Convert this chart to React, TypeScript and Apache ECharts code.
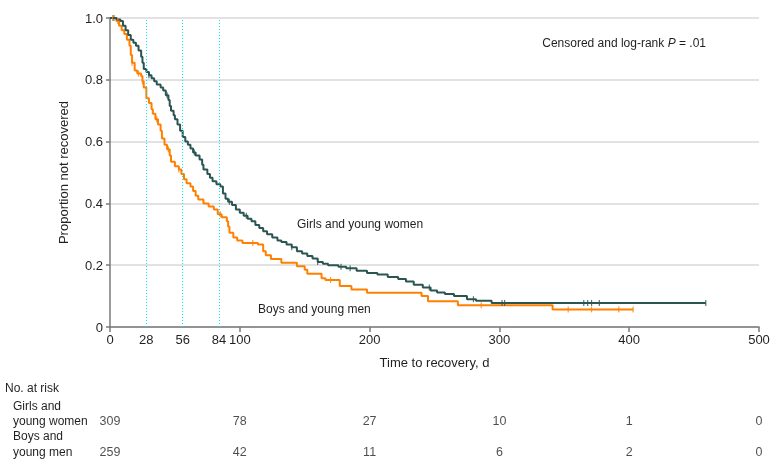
import React, { useEffect, useRef } from "react";
import * as echarts from "echarts";

const girlsCurve: [number, number][] = [
  [0, 1.0], [5, 0.995], [8, 0.99], [10, 0.975], [12, 0.96], [14, 0.945], [16, 0.93], [18, 0.92],
  [20, 0.91], [22, 0.895], [24, 0.875], [25, 0.855], [26, 0.835], [28, 0.825], [30, 0.815],
  [32, 0.805], [34, 0.795], [36, 0.785], [39, 0.775], [41, 0.765], [43, 0.75], [45, 0.735],
  [46, 0.715], [47, 0.7], [49, 0.685], [50, 0.672], [52, 0.655], [54, 0.635], [56, 0.615],
  [58, 0.6], [60, 0.59], [62, 0.578], [64, 0.565], [66, 0.555], [69, 0.542], [71, 0.525],
  [72, 0.51], [75, 0.495], [77, 0.483], [79, 0.472], [82, 0.462], [85, 0.455], [87, 0.432],
  [89, 0.415], [91, 0.405], [94, 0.395], [97, 0.38], [100, 0.37], [103, 0.36], [106, 0.35],
  [109, 0.342], [112, 0.33], [115, 0.32], [118, 0.31], [121, 0.3], [125, 0.29], [129, 0.28],
  [132, 0.275], [136, 0.267], [140, 0.258], [144, 0.245], [148, 0.238], [152, 0.23],
  [156, 0.222], [160, 0.21], [164, 0.205], [168, 0.2], [176, 0.195], [182, 0.19], [190, 0.182],
  [198, 0.175], [206, 0.17], [214, 0.162], [222, 0.155], [228, 0.147], [234, 0.137],
  [241, 0.128], [247, 0.118], [252, 0.112], [258, 0.107], [265, 0.1], [275, 0.09], [282, 0.085],
  [294, 0.078], [459, 0.078],
];

const boysCurve: [number, number][] = [
  [0, 1.0], [3, 1.0], [5, 0.99], [7, 0.975], [9, 0.96], [11, 0.948], [13, 0.93], [15, 0.91],
  [16, 0.88], [17, 0.855], [19, 0.83], [21, 0.82], [24, 0.812], [25, 0.795], [26, 0.775],
  [28, 0.74], [30, 0.725], [32, 0.705], [33, 0.69], [35, 0.672], [37, 0.655], [39, 0.635],
  [40, 0.61], [42, 0.59], [44, 0.575], [46, 0.555], [47, 0.535], [50, 0.52], [53, 0.51],
  [55, 0.495], [57, 0.478], [59, 0.465], [62, 0.455], [64, 0.44], [66, 0.425], [68, 0.413],
  [72, 0.4], [76, 0.39], [80, 0.38], [83, 0.365], [86, 0.355], [90, 0.342], [91, 0.325],
  [92, 0.305], [95, 0.29], [98, 0.28], [102, 0.272], [114, 0.267], [118, 0.245], [120, 0.232],
  [124, 0.22], [132, 0.208], [144, 0.197], [150, 0.185], [152, 0.172], [163, 0.158],
  [166, 0.152], [177, 0.133], [186, 0.121], [198, 0.111], [240, 0.1], [245, 0.083],
  [268, 0.07], [341, 0.057], [403, 0.057],
];

const girlsCensored: number[] = [3, 30, 44, 65, 92, 105, 140, 160, 178, 185, 246, 280, 302, 304, 365, 368, 371, 377, 459];
const boysCensored: number[] = [2, 6, 17, 22, 25, 36, 45, 53, 85, 110, 170, 286, 353, 371, 392, 403];

const xLabelValues: number[] = [0, 28, 56, 84, 100, 200, 300, 400, 500];
const xTickValues: number[] = [0, 100, 200, 300, 400, 500];
const refLines: number[] = [28, 56, 84];

const riskTimes: number[] = [0, 100, 200, 300, 400, 500];
const girlsRisk: number[] = [309, 78, 27, 10, 1, 0];
const boysRisk: number[] = [259, 42, 11, 6, 2, 0];

const FONT = "'Liberation Sans', Arial, sans-serif";
const TEXT = "#231f20";
const GIRLS = "#2a5552";
const BOYS = "#ff8000";

function survAt(curve: [number, number][], t: number): number {
  let p = curve[0][1];
  for (const [d, v] of curve) {
    if (d <= t) p = v;
    else break;
  }
  return p;
}

export default function App() {
  const ref = useRef<HTMLDivElement>(null);
  useEffect(() => {
    if (!ref.current) return;
    const chart = echarts.init(ref.current, undefined, { renderer: "svg" });
    const option: any = {
      animation: false,
      textStyle: { fontFamily: FONT },
      grid: [
        { left: 110, right: 21, top: 18, bottom: 143 },
        { left: 110, right: 21, top: 421, bottom: 18 },
      ],
      xAxis: [
        {
          type: "value",
          gridIndex: 0,
          min: 0,
          max: 500,
          interval: 100,
          name: "Time to recovery, d",
          nameLocation: "middle",
          nameGap: 29,
          nameTextStyle: { fontSize: 13, color: TEXT, fontFamily: FONT },
          axisLine: { show: true, lineStyle: { color: "#7a7a7a", width: 1.5 } },
          axisTick: { show: true, length: 5, customValues: xTickValues, lineStyle: { color: "#7a7a7a", width: 1.5 } },
          axisLabel: { customValues: xLabelValues, fontSize: 13, color: TEXT, margin: 6, fontFamily: FONT },
          splitLine: { show: false },
        },
        {
          type: "value",
          gridIndex: 1,
          min: 0,
          max: 500,
          show: false,
        },
      ],
      yAxis: [
        {
          type: "value",
          gridIndex: 0,
          min: 0,
          max: 1,
          interval: 0.2,
          name: "Proportion not recovered",
          nameLocation: "middle",
          nameGap: 40,
          nameTextStyle: { fontSize: 13, color: TEXT, fontFamily: FONT },
          axisLine: { show: true, lineStyle: { color: "#7a7a7a", width: 1.5 } },
          axisTick: { show: true, length: 4, lineStyle: { color: "#7a7a7a", width: 1.5 } },
          axisLabel: {
            fontSize: 13,
            color: TEXT,
            margin: 7,
            fontFamily: FONT,
            formatter: (v: number) => (v === 0 ? "0" : v.toFixed(1)),
          },
          splitLine: { show: true, lineStyle: { color: "#d9d9d9", width: 1.6 } },
        },
        {
          type: "value",
          gridIndex: 1,
          min: 0,
          max: 1,
          inverse: true,
          show: false,
        },
      ],
      series: [
        {
          type: "line",
          name: "Girls and young women",
          xAxisIndex: 0,
          yAxisIndex: 0,
          step: "end",
          showSymbol: false,
          data: girlsCurve,
          lineStyle: { color: GIRLS, width: 2 },
          itemStyle: { color: GIRLS },
          z: 3,
          markLine: {
            silent: true,
            symbol: ["none", "none"],
            label: { show: false },
            lineStyle: { color: "#00e5f5", type: [1, 2], width: 1 },
            data: refLines.map((d) => [{ coord: [d, 0] }, { coord: [d, 1] }]),
          },
        },
        {
          type: "line",
          name: "Boys and young men",
          xAxisIndex: 0,
          yAxisIndex: 0,
          step: "end",
          showSymbol: false,
          data: boysCurve,
          lineStyle: { color: BOYS, width: 2 },
          itemStyle: { color: BOYS },
          z: 2,
        },
        {
          type: "scatter",
          xAxisIndex: 0,
          yAxisIndex: 0,
          symbol: "rect",
          symbolSize: [1.2, 6],
          itemStyle: { color: GIRLS },
          data: girlsCensored.map((d) => [d, survAt(girlsCurve, d)]),
          z: 4,
        },
        {
          type: "scatter",
          xAxisIndex: 0,
          yAxisIndex: 0,
          symbol: "rect",
          symbolSize: [1.2, 6],
          itemStyle: { color: BOYS },
          data: boysCensored.map((d) => [d, survAt(boysCurve, d)]),
          z: 4,
        },
        {
          type: "scatter",
          xAxisIndex: 1,
          yAxisIndex: 1,
          symbolSize: 0,
          data: riskTimes.map((t, i) => [t, 0, girlsRisk[i]]),
          label: {
            show: true,
            position: "inside",
            formatter: (p: any) => String(p.value[2]),
            fontSize: 12.5,
            color: TEXT,
            fontFamily: FONT,
          },
        },
        {
          type: "scatter",
          xAxisIndex: 1,
          yAxisIndex: 1,
          symbolSize: 0,
          data: riskTimes.map((t, i) => [t, 1, boysRisk[i]]),
          label: {
            show: true,
            position: "inside",
            formatter: (p: any) => String(p.value[2]),
            fontSize: 12.5,
            color: TEXT,
            fontFamily: FONT,
          },
        },
      ],
      graphic: [
        {
          type: "text",
          x: 706,
          y: 43,
          style: {
            text: "{a|Censored and log-rank }{i|P}{a| = .01}",
            align: "right",
            verticalAlign: "middle",
            rich: {
              a: { fontSize: 12, fontFamily: FONT, fill: TEXT, color: TEXT },
              i: { fontSize: 12, fontFamily: FONT, fontStyle: "italic", fill: TEXT, color: TEXT },
            },
          },
        },
        {
          type: "text",
          x: 297,
          y: 224,
          style: { text: "Girls and young women", fontSize: 12, fontFamily: FONT, fill: TEXT, align: "left", verticalAlign: "middle" },
        },
        {
          type: "text",
          x: 258,
          y: 309,
          style: { text: "Boys and young men", fontSize: 12, fontFamily: FONT, fill: TEXT, align: "left", verticalAlign: "middle" },
        },
        {
          type: "text",
          x: 5,
          y: 388,
          style: { text: "No. at risk", fontSize: 12, fontFamily: FONT, fill: TEXT, align: "left", verticalAlign: "middle" },
        },
        {
          type: "text",
          x: 13,
          y: 406,
          style: { text: "Girls and", fontSize: 12, fontFamily: FONT, fill: TEXT, align: "left", verticalAlign: "middle" },
        },
        {
          type: "text",
          x: 13,
          y: 421,
          style: { text: "young women", fontSize: 12, fontFamily: FONT, fill: TEXT, align: "left", verticalAlign: "middle" },
        },
        {
          type: "text",
          x: 13,
          y: 436,
          style: { text: "Boys and", fontSize: 12, fontFamily: FONT, fill: TEXT, align: "left", verticalAlign: "middle" },
        },
        {
          type: "text",
          x: 13,
          y: 452,
          style: { text: "young men", fontSize: 12, fontFamily: FONT, fill: TEXT, align: "left", verticalAlign: "middle" },
        },
      ],
    };
    chart.setOption(option);
    return () => chart.dispose();
  }, []);
  return <div ref={ref} style={{ width: 780, height: 470, position: "fixed", left: 0, top: 0 }} />;
}
